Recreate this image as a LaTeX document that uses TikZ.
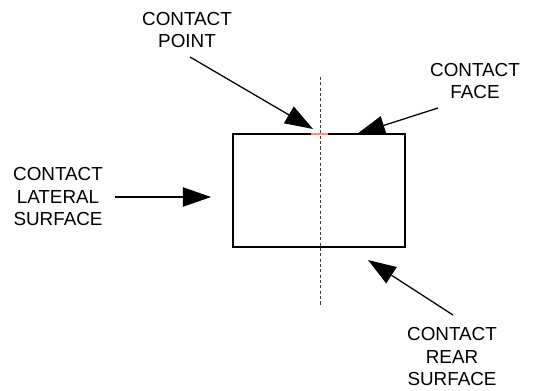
\documentclass[tikz,border=0pt]{standalone}
\usepackage{fontspec}
\setmainfont{Liberation Sans}
\usepackage{tikz}
\usetikzlibrary{arrows.meta,positioning}
\tikzset{
  every picture/.append style={line cap=butt,line join=miter},
  ct label/.style={font=\fontsize{13.4}{16}\selectfont,align=center,inner sep=0pt},
  ct body/.style={line width=1.4pt},
  ct axis/.style={line width=0.5pt,black!75,dash pattern=on 2.2pt off 1.6pt},
  ct spot/.style={line width=1.4pt,red!45},
  ct arrow/.style={line width=0.9pt,-{Triangle[length=7mm,width=4.8mm]}}
}
\begin{document}
\begin{tikzpicture}[x=0.025cm,y=-0.025cm]
    \useasboundingbox (0,0) rectangle (533,390);
    % block
    \draw[ct body] (233,134) rectangle (405,247);
    \draw[ct axis] (320,77) -- (320,305);
    \draw[ct spot] (311,134) -- (328,134);
    % labels
    \node[ct label] (cpoint) at (187,30) {CONTACT\\POINT};
    \node[ct label] (cface) at (475,81) {CONTACT\\FACE};
    \node[ct label] (clat) at (58,197) {CONTACT\\LATERAL\\SURFACE};
    \node[ct label] (crear) at (452,357) {CONTACT\\REAR\\SURFACE};
    % arrow ends
    \coordinate (pointtail) at (190,57);
    \coordinate (pointtip) at (313,129);
    \coordinate (facetail) at (438,108);
    \coordinate (facetip) at (357,134);
    \coordinate (lattail) at (115,197);
    \coordinate (lattip) at (211,197);
    \coordinate (reartail) at (453,315);
    \coordinate (reartip) at (368,260);
    \draw[ct arrow] (pointtail) -- (pointtip);
    \draw[ct arrow] (facetail) -- (facetip);
    \draw[ct arrow] (lattail) -- (lattip);
    \draw[ct arrow] (reartail) -- (reartip);
  \end{tikzpicture}
\end{document}
